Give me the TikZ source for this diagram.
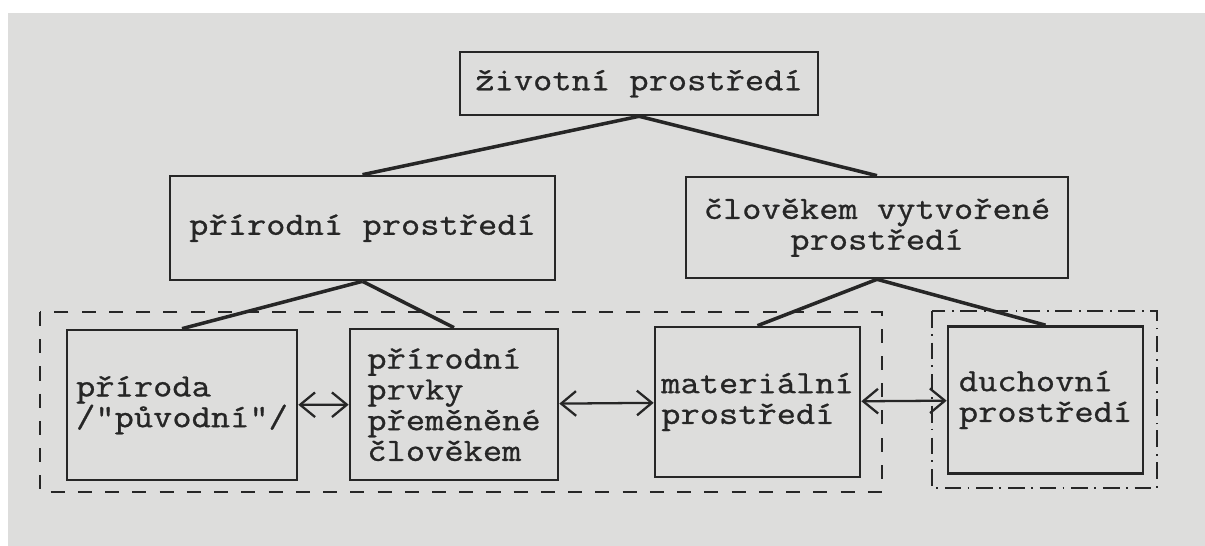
\documentclass[tikz,border=0pt]{standalone}
\usepackage{fontspec}
\newfontfamily\typewriter{Latin Modern Mono}[FakeStretch=1.15,FakeBold=0.8]
\usetikzlibrary{arrows.meta}

\definecolor{paper}{RGB}{221,221,220}
\definecolor{ink}{RGB}{38,38,38}

\tikzset{
  box/.style={draw=ink, line width=1.5pt, text=ink, inner sep=0pt,
    font=\typewriter\fontsize{18.5}{17.5}\selectfont},
  link/.style={draw=ink, line width=2pt},
  pair/.style={draw=ink, line width=1.3pt, {Straight Barb[length=8.5pt,width=14pt]}-{Straight Barb[length=8.5pt,width=14pt]}},
  dashframe/.style={draw=ink, line width=1.5pt, dash pattern=on 8pt off 7.5pt},
  dotframe/.style={draw=ink, line width=1.5pt, dash pattern=on 9.5pt off 3.5pt on 1pt off 4pt}
}

\begin{document}
\begin{tikzpicture}
			\useasboundingbox (0,0) rectangle (24.1,10.92);
			\fill[paper] (0.16,0) rectangle (24.1,10.66);

			% upper levels
			\node[box, minimum width=7.16cm, minimum height=1.26cm] (env) at (12.78,9.25) {životní prostředí};
			\node[box, minimum width=7.7cm, minimum height=2.08cm] (nat) at (7.25,6.36) {přírodní prostředí};
			\node[box, minimum width=7.64cm, minimum height=2.02cm, align=center] (built) at (17.54,6.37) {člověkem vytvořené\\prostředí};

			% lowest level
			\node[box, minimum width=4.6cm, minimum height=3cm, align=left] (wild) at (3.64,2.82) {příroda\\/"původní"/};
			\node[box, minimum width=4.16cm, minimum height=3.02cm, align=left] (changed) at (9.08,2.83) {přírodní\\prvky\\přeměněné\\člověkem};
			\node[box, minimum width=4.1cm, minimum height=3cm, align=left] (material) at (15.15,2.88) {materiální\\prostředí};
			\node[box, minimum width=3.9cm, minimum height=2.94cm, align=left] (mind) at (20.91,2.92) {duchovní\\prostředí};

			% frames round the groups
			\draw[dashframe] (0.8,4.68) rectangle (17.64,1.08);
			\draw[dotframe] (18.64,4.7) rectangle (23.14,1.16);

			\path[link]
			(env.south) edge (nat.north)
			            edge (built.north)
			(nat.south) edge (wild.north)
			            edge (changed.north)
			(built.south) edge (material.north)
			              edge (mind.north)
			;
			\path[pair]
			(wild) edge (changed)
			(changed) edge (material)
			(material) edge (mind)
			;
		\end{tikzpicture}
\end{document}
